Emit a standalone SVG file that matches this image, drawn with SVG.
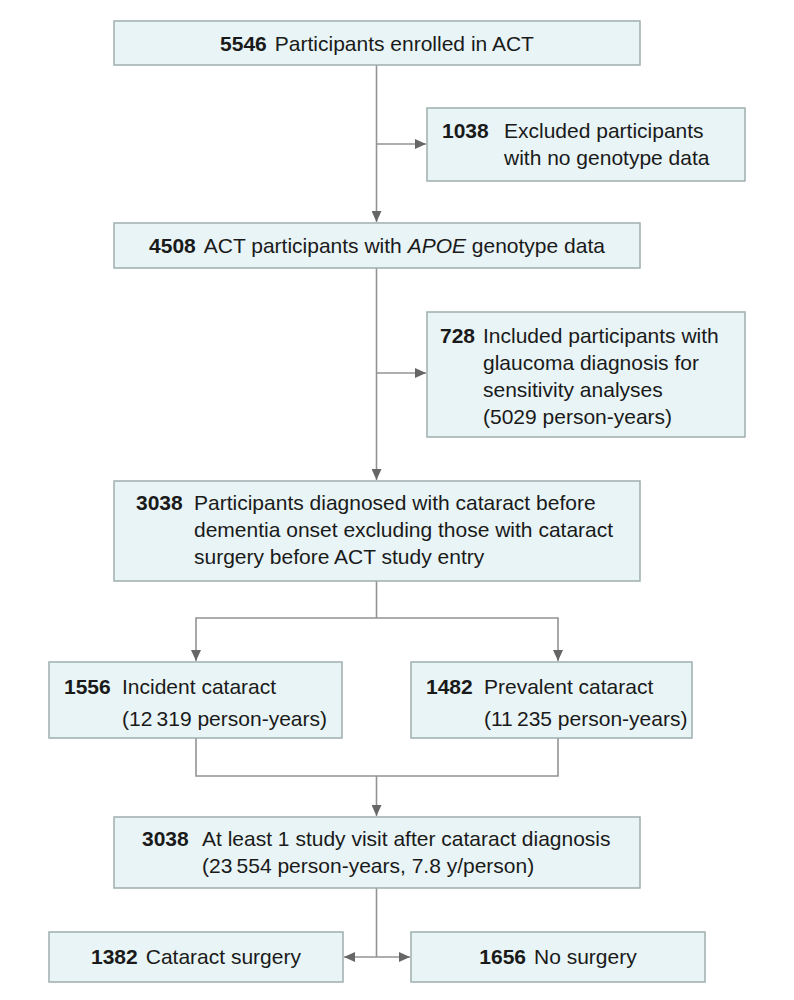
<svg xmlns="http://www.w3.org/2000/svg" width="794" height="1000" viewBox="0 0 794 1000">
<style>
.box{fill:#e8f4f5;stroke:#9eafaf;stroke-width:1.5}
.t{font-family:"Liberation Sans",Arial,sans-serif;font-size:21px;fill:#1a1a1a}
.b{font-weight:bold}
.c{text-anchor:middle}
.ln{fill:none;stroke:#939393;stroke-width:1.6}
</style>
<defs>
<marker id="ah" markerUnits="userSpaceOnUse" markerWidth="12" markerHeight="10" refX="11" refY="5" orient="auto-start-reverse">
<path d="M0,0 L11,5 L0,10 z" fill="#666"/>
</marker>
</defs>
<rect width="794" height="1000" fill="#fff"/>
<g id="connectors">
<path class="ln" d="M376.5,65 V222" marker-end="url(#ah)"/>
<path class="ln" d="M376.5,144 H426" marker-end="url(#ah)"/>
<path class="ln" d="M376.5,268 V480" marker-end="url(#ah)"/>
<path class="ln" d="M376.5,373 H426" marker-end="url(#ah)"/>
<path class="ln" d="M376.5,581 V618"/>
<path class="ln" d="M196,661 V618 H558 V661" marker-start="url(#ah)" marker-end="url(#ah)"/>
<path class="ln" d="M196,738 V776 H558 V738"/>
<path class="ln" d="M376.5,776 V816" marker-end="url(#ah)"/>
<path class="ln" d="M376.5,888 V957"/>
<path class="ln" d="M344,957 H410" marker-start="url(#ah)" marker-end="url(#ah)"/>
</g>
<g id="n1">
<rect class="box" x="114" y="21" width="526" height="44"/>
<text class="t c" x="377" y="51"><tspan class="b">5546</tspan><tspan dx="8">Participants enrolled in ACT</tspan></text>
</g>
<g id="n2">
<rect class="box" x="427" y="108" width="318" height="73"/>
<text class="t b" x="442" y="138">1038</text>
<text class="t" x="504" y="138">Excluded participants</text>
<text class="t" x="504" y="165">with no genotype data</text>
</g>
<g id="n3">
<rect class="box" x="114" y="223" width="526" height="45"/>
<text class="t c" x="377" y="253"><tspan class="b">4508</tspan><tspan dx="8">ACT participants with </tspan><tspan font-style="italic">APOE</tspan><tspan> genotype data</tspan></text>
</g>
<g id="n4">
<rect class="box" x="427" y="312" width="318" height="125"/>
<text class="t b" x="440" y="343">728</text>
<text class="t" x="483" y="343">Included participants with</text>
<text class="t" x="483" y="370">glaucoma diagnosis for</text>
<text class="t" x="483" y="397">sensitivity analyses</text>
<text class="t" x="483" y="424">(5029 person-years)</text>
</g>
<g id="n5">
<rect class="box" x="114" y="481" width="526" height="100"/>
<text class="t b" x="136" y="510">3038</text>
<text class="t" x="194" y="510">Participants diagnosed with cataract before</text>
<text class="t" x="194" y="537">dementia onset excluding those with cataract</text>
<text class="t" x="194" y="564">surgery before ACT study entry</text>
</g>
<g id="n6">
<rect class="box" x="49" y="662" width="293" height="76"/>
<text class="t b" x="64" y="694">1556</text>
<text class="t" x="122" y="694">Incident cataract</text>
<text class="t" x="122" y="726">(12&#8201;319 person-years)</text>
</g>
<g id="n7">
<rect class="box" x="411" y="662" width="281" height="76"/>
<text class="t b" x="426" y="694">1482</text>
<text class="t" x="484" y="694">Prevalent cataract</text>
<text class="t" x="484" y="726">(11&#8201;235 person-years)</text>
</g>
<g id="n8">
<rect class="box" x="114" y="817" width="526" height="71"/>
<text class="t b" x="142" y="846">3038</text>
<text class="t" x="202" y="846">At least 1 study visit after cataract diagnosis</text>
<text class="t" x="202" y="873">(23&#8201;554 person-years, 7.8 y/person)</text>
</g>
<g id="n9">
<rect class="box" x="49" y="932" width="294" height="50"/>
<text class="t c" x="196" y="964"><tspan class="b">1382</tspan><tspan dx="8">Cataract surgery</tspan></text>
</g>
<g id="n10">
<rect class="box" x="411" y="932" width="294" height="50"/>
<text class="t c" x="558" y="964"><tspan class="b">1656</tspan><tspan dx="8">No surgery</tspan></text>
</g>
</svg>
